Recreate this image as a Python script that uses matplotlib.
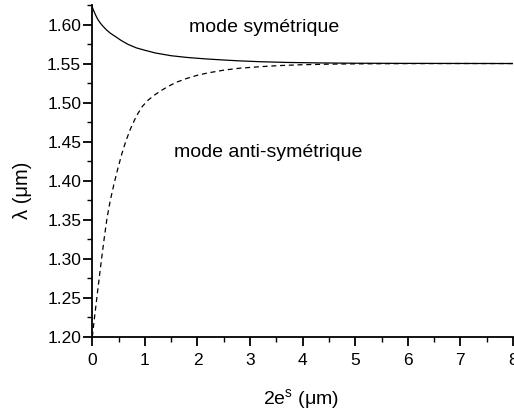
import matplotlib
matplotlib.use("Agg")
import matplotlib.pyplot as plt
from matplotlib.ticker import MultipleLocator, FormatStrFormatter

plt.rcParams['font.family'] = ['Liberation Sans', 'DejaVu Sans']
plt.rcParams['mathtext.fontset'] = 'custom'
plt.rcParams['mathtext.rm'] = 'Liberation Sans'
plt.rcParams['mathtext.it'] = 'Liberation Sans:italic'

# mode symetrique
sym_x = [0.0, 0.03, 0.06, 0.10, 0.15, 0.20, 0.27, 0.35, 0.43, 0.55, 0.68, 0.84, 1.0, 1.2,
         1.5, 1.8, 2.14, 2.5, 2.77, 3.2, 3.7, 4.3, 5.0, 6.0, 7.0, 8.0]
sym_y = [1.622, 1.617, 1.6125, 1.607, 1.602, 1.598, 1.593, 1.5885, 1.585, 1.5795, 1.5745,
         1.570, 1.567, 1.5635, 1.560, 1.5578, 1.556, 1.5545, 1.5535, 1.5523, 1.5514, 1.5508,
         1.5504, 1.5502, 1.5501, 1.550]

# mode anti-symetrique
anti_x = [0.0, 0.03, 0.06, 0.10, 0.14, 0.18, 0.23, 0.28, 0.34, 0.41, 0.48, 0.56, 0.64, 0.73,
          0.84, 0.95, 1.06, 1.18, 1.30, 1.45, 1.60, 1.80, 2.0, 2.2, 2.5, 2.8, 3.2, 3.6, 4.0,
          4.5, 5.0, 6.0, 7.0, 8.0]
anti_y = [1.200, 1.218, 1.235, 1.258, 1.280, 1.302, 1.328, 1.352, 1.374, 1.395, 1.414, 1.434,
          1.451, 1.467, 1.483, 1.495, 1.503, 1.5095, 1.515, 1.521, 1.526, 1.531, 1.535, 1.538,
          1.5415, 1.544, 1.546, 1.5475, 1.5485, 1.5492, 1.5496, 1.5499, 1.550, 1.550]

fig = plt.figure(figsize=(5.14, 4.16), dpi=100)
ax = fig.add_axes([0.1796, 0.1906, 0.8184, 0.7974])

ax.plot(sym_x, sym_y, color="black", linewidth=0.9)
ax.plot(anti_x, anti_y, color="black", linewidth=0.9, linestyle=(0, (4, 3)))

ax.set_xlim(0, 8)
ax.set_ylim(1.2, 1.625)
ax.xaxis.set_major_locator(MultipleLocator(1))
ax.xaxis.set_minor_locator(MultipleLocator(0.5))
ax.yaxis.set_major_locator(MultipleLocator(0.05))
ax.yaxis.set_minor_locator(MultipleLocator(0.025))
ax.yaxis.set_major_formatter(FormatStrFormatter("%.2f"))

ax.spines["top"].set_visible(False)
ax.spines["right"].set_visible(False)
for s in ("left", "bottom"):
    ax.spines[s].set_linewidth(1.3)

ax.tick_params(which="major", direction="out", length=6.5, width=1.3, labelsize=12.5, pad=1.5)
ax.tick_params(which="minor", direction="out", length=3.8, width=1.0)
ax.tick_params(axis="x", which="major", pad=5)

ax.set_xlabel(r"2e$^{\mathrm{s}}$ (μm)", fontsize=14)
ax.set_ylabel("λ (μm)", fontsize=14.5)
ax.xaxis.set_label_coords(0.496, -0.152)
ax.yaxis.set_label_coords(-0.143, 0.44)

ax.text(3.26, 1.596, "mode symétrique", fontsize=14, ha="center", va="center")
ax.text(3.34, 1.436, "mode anti-symétrique", fontsize=14, ha="center", va="center")

fig.savefig("out.png", dpi=100)
